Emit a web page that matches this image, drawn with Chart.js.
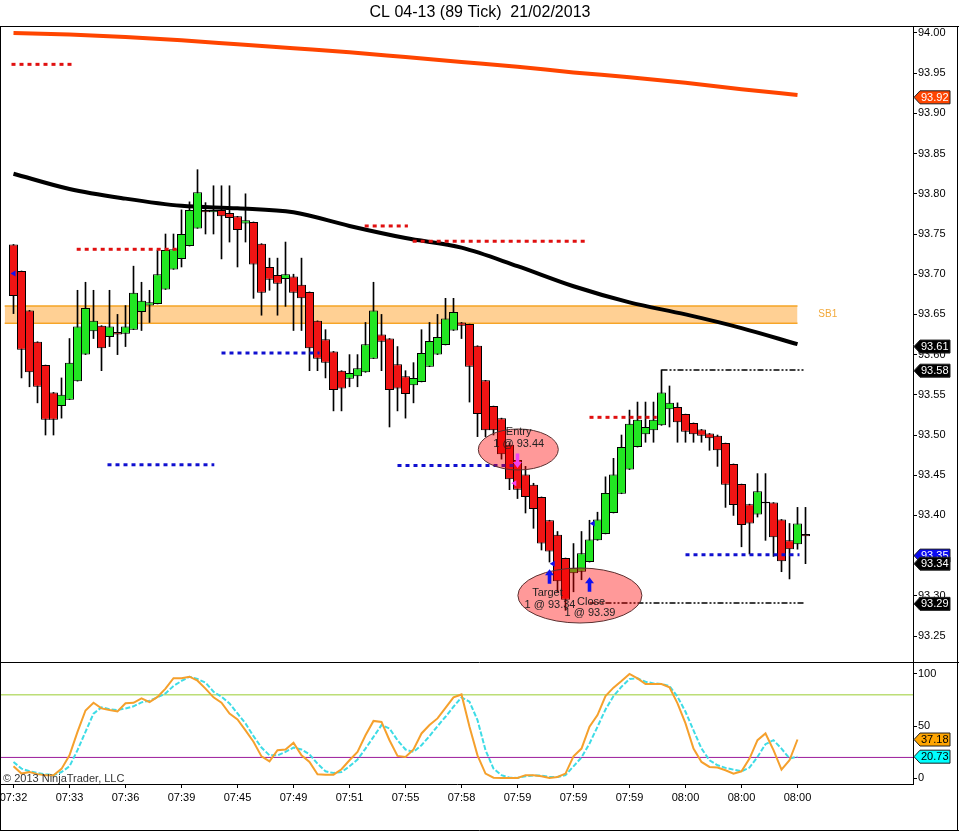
<!DOCTYPE html>
<html>
<head>
<meta charset="utf-8">
<script src="https://cdn.jsdelivr.net/npm/chart.js@4.4.1/dist/chart.umd.min.js"></script>
<style>
  body { margin: 0; background: #fff; }
  #wrap { position: relative; width: 959px; height: 831px; }
  canvas { position: absolute; left: 0; }
</style>
</head>
<body>
<div id="wrap">
  <canvas id="price" width="959" height="662" style="top:0"></canvas>
  <canvas id="stoch" width="959" height="169" style="top:662px"></canvas>
</div>
<script>
// CL 04-13 (89 Tick) 21/02/2013 - candles, 2 SMA, levels, stochastics

const FONT = "'Liberation Sans', Arial, sans-serif";
Chart.defaults.font.family = FONT;

// bars 0..99
const opens = [93.737, 93.704, 93.655, 93.616, 93.587, 93.553, 93.536, 93.544, 93.567, 93.600,
  93.629, 93.636, 93.622, 93.628, 93.626, 93.631, 93.653, 93.661, 93.663, 93.681,
  93.706, 93.719, 93.735, 93.757, 93.780, 93.777, 93.780, 93.776, 93.772, 93.763,
  93.765, 93.738, 93.709, 93.699, 93.694, 93.697, 93.687, 93.678, 93.642, 93.619,
  93.604, 93.580, 93.570, 93.573, 93.578, 93.595, 93.625, 93.620, 93.588, 93.573,
  93.562, 93.566, 93.585, 93.600, 93.612, 93.630, 93.640, 93.638, 93.611, 93.568,
  93.536, 93.521, 93.488, 93.469, 93.451, 93.438, 93.423, 93.394, 93.376, 93.347,
  93.328, 93.330, 93.342, 93.369, 93.377, 93.403, 93.427, 93.457, 93.485, 93.501,
  93.506, 93.512, 93.532, 93.535, 93.526, 93.515, 93.507, 93.502, 93.499, 93.490,
  93.464, 93.439, 93.414, 93.401, 93.417, 93.416, 93.395, 93.369, 93.364, 93.377];
const highs = [93.737, 93.704, 93.655, 93.616, 93.587, 93.553, 93.571, 93.620, 93.680, 93.690,
  93.680, 93.636, 93.680, 93.650, 93.661, 93.710, 93.690, 93.680, 93.730, 93.750,
  93.750, 93.780, 93.790, 93.830, 93.789, 93.810, 93.810, 93.810, 93.772, 93.800,
  93.765, 93.738, 93.720, 93.720, 93.740, 93.700, 93.720, 93.678, 93.642, 93.631,
  93.604, 93.580, 93.600, 93.600, 93.640, 93.690, 93.650, 93.620, 93.610, 93.580,
  93.590, 93.631, 93.640, 93.650, 93.670, 93.670, 93.640, 93.638, 93.611, 93.568,
  93.536, 93.521, 93.490, 93.470, 93.461, 93.440, 93.423, 93.394, 93.380, 93.347,
  93.365, 93.380, 93.394, 93.404, 93.448, 93.471, 93.500, 93.531, 93.541, 93.541,
  93.541, 93.581, 93.561, 93.540, 93.526, 93.515, 93.507, 93.502, 93.500, 93.490,
  93.464, 93.439, 93.414, 93.452, 93.452, 93.416, 93.395, 93.390, 93.410, 93.410];
const lows = [93.651, 93.571, 93.560, 93.540, 93.500, 93.500, 93.521, 93.544, 93.567, 93.600,
  93.620, 93.580, 93.610, 93.600, 93.610, 93.631, 93.630, 93.640, 93.663, 93.681,
  93.706, 93.709, 93.735, 93.757, 93.750, 93.750, 93.719, 93.740, 93.709, 93.740,
  93.670, 93.649, 93.680, 93.649, 93.660, 93.630, 93.630, 93.580, 93.580, 93.571,
  93.530, 93.530, 93.560, 93.560, 93.578, 93.595, 93.580, 93.510, 93.530, 93.521,
  93.540, 93.566, 93.585, 93.600, 93.612, 93.630, 93.620, 93.541, 93.498, 93.498,
  93.500, 93.470, 93.432, 93.421, 93.403, 93.384, 93.357, 93.342, 93.305, 93.282,
  93.305, 93.320, 93.342, 93.369, 93.377, 93.403, 93.427, 93.457, 93.485, 93.491,
  93.491, 93.512, 93.510, 93.491, 93.491, 93.491, 93.491, 93.481, 93.461, 93.410,
  93.400, 93.361, 93.352, 93.398, 93.369, 93.349, 93.330, 93.321, 93.358, 93.340];
const closes = [93.673, 93.606, 93.578, 93.560, 93.519, 93.519, 93.550, 93.590, 93.635, 93.658,
  93.642, 93.608, 93.635, 93.625, 93.635, 93.677, 93.667, 93.665, 93.700, 93.730,
  93.731, 93.750, 93.780, 93.802, 93.777, 93.780, 93.772, 93.770, 93.755, 93.767,
  93.712, 93.677, 93.693, 93.688, 93.700, 93.677, 93.670, 93.608, 93.595, 93.590,
  93.556, 93.558, 93.577, 93.583, 93.613, 93.655, 93.616, 93.556, 93.558, 93.551,
  93.571, 93.602, 93.617, 93.622, 93.645, 93.653, 93.636, 93.585, 93.526, 93.506,
  93.506, 93.476, 93.445, 93.432, 93.423, 93.408, 93.365, 93.355, 93.318, 93.295,
  93.335, 93.353, 93.370, 93.395, 93.428, 93.451, 93.485, 93.514, 93.519, 93.510,
  93.519, 93.553, 93.540, 93.516, 93.504, 93.501, 93.499, 93.496, 93.481, 93.438,
  93.413, 93.388, 93.390, 93.430, 93.415, 93.373, 93.343, 93.358, 93.390, 93.374];

// x labels, every 7th bar
const tickBars = [0, 7, 14, 21, 28, 35, 42, 49, 56, 63, 70, 77, 84, 91, 98];
const tickTimes = ["07:32", "07:33", "07:36", "07:39", "07:45", "07:49", "07:51", "07:55",
  "07:58", "07:59", "07:59", "07:59", "08:00", "08:00", "08:00"];
const priceTicks = [93.25, 93.30, 93.35, 93.40, 93.45, 93.50, 93.55, 93.60, 93.65,
  93.70, 93.75, 93.80, 93.85, 93.90, 93.95, 94.00];

// moving averages read at the tick bars
const smaOrange = [94.000, 93.998, 93.995, 93.991, 93.986, 93.981, 93.976, 93.970,
  93.964, 93.958, 93.951, 93.945, 93.938, 93.930, 93.923];
const smaBlack = [93.825, 93.806, 93.794, 93.785, 93.782, 93.777, 93.760, 93.745,
  93.733, 93.710, 93.685, 93.665, 93.650, 93.633, 93.613];

// stochastics, bars 0..98
const stochK = [11.5, 4.5, 6, 4, 3, 3, 9, 22, 44.5, 65,
  72.4, 67, 65.4, 64, 72, 72.4, 76.6, 73, 78, 86,
  96, 96, 97.4, 93.6, 86, 77.6, 72.4, 62, 56.4, 46,
  35, 21, 16.3, 27, 27.6, 34, 22, 15.7, 3.8, 3.5,
  3.5, 8.7, 17.3, 25.3, 41.3, 55, 54, 36.5, 21.5, 20.5,
  27.6, 43, 51, 57.4, 67.6, 77.6, 80.4, 49.4, 22, 4.5,
  0.6, 0.3, 0.3, 0.3, 3, 3, 2, 0.3, 1.3, 4.5,
  21, 28.5, 49.4, 60.6, 78.8, 86.9, 93.3, 100, 95.8, 90.4,
  90.4, 90.4, 87.2, 71.8, 52.6, 28.5, 15.7, 10.9, 10.3, 7.7,
  4.5, 6.7, 18.9, 36.5, 43, 27, 8.3, 17.3, 37.2];
const stochD = [15.7, 9.3, 6.7, 5, 3.8, 3, 6, 11.5, 27, 44.6,
  62, 68, 66.3, 65.4, 67, 69, 72.8, 74.4, 77.6, 81.4,
  88.5, 93.3, 97.4, 95.2, 91.7, 83, 78.2, 71.8, 62.2, 52.6,
  40.4, 29.5, 22, 22, 25.3, 29.5, 27.6, 23, 14, 6.7,
  5, 6, 11.5, 18, 28.5, 39.7, 51, 47.8, 36.5, 27.6,
  25.3, 31.7, 40.4, 50, 59, 68.6, 77.6, 73.4, 55.8, 27,
  9.3, 3, 0.6, 0.3, 2, 2.6, 2.6, 1.3, 1.3, 3,
  11.5, 20, 33.3, 49.4, 66, 78.8, 87.8, 95.2, 95.8, 92.6,
  91, 90.4, 88.5, 78.2, 63.8, 46, 28.5, 17.3, 12.5, 10,
  8.3, 6.7, 10.3, 20.5, 32.7, 36.5, 28.5, 19, 20.7];
const stochLevels = [80, 20];

// levels: [fromBar, toBar, price]
const redLevels = [[-0.25, 7.6, 93.961], [7.9, 20.4, 93.731], [43.9, 49.3, 93.760],
  [49.9, 71.4, 93.741], [72, 80.4, 93.522]];
const blueLevels = [[11.75, 25.1, 93.463], [26, 38.25, 93.602], [48, 62.5, 93.462],
  [84, 98.25, 93.351]];
const dashLevels = [[81, 99, 93.581], [72, 99, 93.291]];
const zoneSB1 = [-1.1, 98, 93.639, 93.6605];

// right axis markers
const priceTags = [93.92, 93.61, 93.58, 93.35, 93.34, 93.29];
const stochTags = [37.18, 20.73];

// trades
const ovals = [
  { bar: 63.1, price: 93.482, rBars: 5, rPrice: 0.0255 },
  { bar: 70.8, price: 93.3004, rBars: 7.75, rPrice: 0.0342 }
];
const ovalTexts = [
  ["Entry", 63.15, 93.5034], ["1 @ 93.44", 63.15, 93.4888],
  ["Target", 66.75, 93.3031], ["1 @ 93.34", 67.06, 93.2886],
  ["Close", 72.2, 93.2927], ["1 @ 93.39", 72.06, 93.2782]
];
const arrows = [[67, 93.333, 93.315, "#1010F0"], [72, 93.323, 93.305, "#1010F0"],
  [63, 93.459, 93.477, "#F040F0"]];
const marks = [[0, 93.701, "#1010F0"], [67.4, 93.34, "#1010F0"], [72.4, 93.39, "#1010F0"],
  [62.6, 93.44, "#F040F0"]];

const xMin = -1.5625, xMax = 112.4375;

function levelSets(levels, color, width, dash) {
  return levels.map(([a, b, p]) => ({
    type: "line",
    data: [{ x: a, y: p }, { x: b, y: p }],
    borderColor: color, borderWidth: width, borderDash: dash, borderCapStyle: "butt",
    pointRadius: 0, order: 2
  }));
}

function tag(ctx, xl, y, text, bg, fg) {
  ctx.beginPath();
  ctx.moveTo(xl + 1, y);
  ctx.lineTo(xl + 7, y - 6.5);
  ctx.lineTo(xl + 37, y - 6.5);
  ctx.lineTo(xl + 37, y + 6.5);
  ctx.lineTo(xl + 7, y + 6.5);
  ctx.closePath();
  ctx.fillStyle = bg;
  ctx.fill();
  ctx.strokeStyle = "#222";
  ctx.lineWidth = 1;
  ctx.stroke();
  ctx.fillStyle = fg;
  ctx.font = "11px " + FONT;
  ctx.textAlign = "left";
  ctx.textBaseline = "middle";
  ctx.fillText(text, xl + 8, y + 0.5);
}

const priceNotes = {
  id: "priceNotes",
  afterDraw(chart) {
    const { ctx, scales: { x, y } } = chart;
    ctx.save();
    // frame
    ctx.strokeStyle = "#000";
    ctx.lineWidth = 1;
    ctx.beginPath();
    ctx.moveTo(0, 26.5); ctx.lineTo(959, 26.5);
    ctx.moveTo(0.5, 26); ctx.lineTo(0.5, 662);
    ctx.moveTo(957.5, 26); ctx.lineTo(957.5, 662);
    ctx.stroke();

    // SB1 label
    ctx.fillStyle = "#F2A93B";
    ctx.font = "10px " + FONT;
    ctx.textBaseline = "middle";
    ctx.fillText("SB1", x.getPixelForValue(100.6), y.getPixelForValue(93.65));

    // trade ovals
    ovals.forEach(o => {
      const cx = x.getPixelForValue(o.bar), cy = y.getPixelForValue(o.price);
      const rx = x.getPixelForValue(o.bar + o.rBars) - cx;
      const ry = cy - y.getPixelForValue(o.price + o.rPrice);
      ctx.beginPath();
      ctx.ellipse(cx, cy, rx, ry, 0, 0, Math.PI * 2);
      ctx.fillStyle = "rgba(255,0,0,0.4)";
      ctx.fill();
      ctx.strokeStyle = "#5a3030";
      ctx.stroke();
    });
    arrows.forEach(([bar, tip, tail, color]) => {
      const ax = x.getPixelForValue(bar), yt = y.getPixelForValue(tip), yb = y.getPixelForValue(tail);
      const d = Math.sign(yb - yt);
      ctx.fillStyle = color;
      ctx.beginPath();
      ctx.moveTo(ax, yt);
      ctx.lineTo(ax + 4.5, yt + 6 * d);
      ctx.lineTo(ax + 1.8, yt + 6 * d);
      ctx.lineTo(ax + 1.8, yb);
      ctx.lineTo(ax - 1.8, yb);
      ctx.lineTo(ax - 1.8, yt + 6 * d);
      ctx.lineTo(ax - 4.5, yt + 6 * d);
      ctx.closePath();
      ctx.fill();
    });
    marks.forEach(([bar, p, color]) => {
      const mx = x.getPixelForValue(bar), my = y.getPixelForValue(p);
      ctx.fillStyle = color;
      ctx.beginPath();
      ctx.moveTo(mx - 3, my);
      ctx.lineTo(mx + 2, my - 3);
      ctx.lineTo(mx + 2, my + 3);
      ctx.closePath();
      ctx.fill();
    });
    ctx.fillStyle = "#222";
    ctx.font = "11px " + FONT;
    ctx.textAlign = "center";
    ovalTexts.forEach(([t, bar, p]) => ctx.fillText(t, x.getPixelForValue(bar), y.getPixelForValue(p)));

    // axis markers
    const tagColors = [["#FF4500", "#fff"], ["#000", "#fff"], ["#000", "#fff"],
      ["#0A0AF0", "#fff"], ["#000", "#fff"], ["#000", "#fff"]];
    priceTags.forEach((v, i) => tag(ctx, y.left, y.getPixelForValue(v), v.toFixed(2), tagColors[i][0], tagColors[i][1]));
    ctx.restore();
  }
};

const stochNotes = {
  id: "stochNotes",
  afterDraw(chart) {
    const { ctx, scales: { y } } = chart;
    ctx.save();
    ctx.strokeStyle = "#000";
    ctx.lineWidth = 1;
    ctx.beginPath();
    ctx.moveTo(0, 0.5); ctx.lineTo(959, 0.5);
    ctx.moveTo(0.5, 0); ctx.lineTo(0.5, 169);
    ctx.moveTo(957.5, 0); ctx.lineTo(957.5, 169);
    ctx.moveTo(0, 168.5); ctx.lineTo(959, 168.5);
    ctx.stroke();
    ctx.fillStyle = "#333";
    ctx.font = "11px " + FONT;
    ctx.textBaseline = "middle";
    ctx.fillText("\u00A9 2013 NinjaTrader, LLC", 3, 117);
    const tagColors = ["#FFA500", "#00FFFF"];
    stochTags.forEach((v, i) => tag(ctx, y.left, y.getPixelForValue(v), v.toFixed(2), tagColors[i], "#000"));
    ctx.restore();
  }
};

const candleColors = closes.map((c, i) => c >= opens[i] ? "#22E622" : "#F01414");
const axisFont = { family: FONT, size: 11 };

// price panel
new Chart(document.getElementById("price"), {
  type: "bar",
  data: {
    datasets: [
      {
        type: "line", data: [{ x: zoneSB1[0], y: zoneSB1[3] }, { x: zoneSB1[1], y: zoneSB1[3] }],
        borderColor: "#F5A524", borderWidth: 1.5, pointRadius: 0,
        fill: "+1", backgroundColor: "rgba(255,170,60,0.55)", order: 9
      },
      {
        type: "line", data: [{ x: zoneSB1[0], y: zoneSB1[2] }, { x: zoneSB1[1], y: zoneSB1[2] }],
        borderColor: "#F5A524", borderWidth: 1.5, pointRadius: 0, fill: false, order: 9
      },
      {
        type: "line", data: smaOrange.map((v, i) => ({ x: tickBars[i], y: v })),
        borderColor: "#FF4500", borderWidth: 4, pointRadius: 0, cubicInterpolationMode: "monotone", order: 8
      },
      {
        type: "line", data: smaBlack.map((v, i) => ({ x: tickBars[i], y: v })),
        borderColor: "#000", borderWidth: 4, pointRadius: 0, cubicInterpolationMode: "monotone", order: 8
      },
      {
        // wicks
        data: lows.map((l, i) => ({ x: i, y: [l, highs[i]] })),
        backgroundColor: "#000", grouped: false, maxBarThickness: 1,
        barPercentage: 1, categoryPercentage: 1, order: 6
      },
      {
        // bodies
        data: opens.map((o, i) => ({ x: i, y: [o, closes[i]] })),
        backgroundColor: candleColors, borderColor: "#000", borderWidth: 1, borderSkipped: false,
        grouped: false, barPercentage: 1.125, categoryPercentage: 1, order: 5
      },
      ...levelSets(redLevels, "#E01010", 3, [4, 4]),
      ...levelSets(blueLevels, "#1010D0", 3, [4, 4]),
      ...levelSets(dashLevels, "#000", 1.5, [6, 2, 2, 2, 2, 2])
    ]
  },
  options: {
    responsive: false, animation: false, devicePixelRatio: 1,
    layout: { padding: { left: 1, right: 0, top: 0, bottom: 0 } },
    plugins: {
      legend: { display: false }, tooltip: { enabled: false },
      title: {
        display: true, text: "CL 04-13 (89 Tick)  21/02/2013", color: "#000",
        font: { family: FONT, size: 16, weight: "normal" }, padding: { top: 3, bottom: 3.8 }
      }
    },
    scales: {
      x: { type: "linear", min: xMin, max: xMax, offset: false, display: false },
      y: {
        position: "right", min: 93.2177, max: 94.0087, beginAtZero: false,
        afterFit: s => { s.width = 46; s.paddingTop = 0; s.paddingBottom = 0; },
        afterBuildTicks: s => { s.ticks = priceTicks.map(v => ({ value: v })); },
        grid: { drawOnChartArea: false, tickLength: 4, color: "#000" },
        border: { color: "#000" },
        ticks: { padding: 1, font: axisFont, color: "#000", autoSkip: false, callback: v => v.toFixed(2) }
      }
    }
  },
  plugins: [priceNotes]
});

// stochastics panel
new Chart(document.getElementById("stoch"), {
  type: "line",
  data: {
    datasets: [
      { data: [{ x: xMin, y: stochLevels[0] }, { x: xMax, y: stochLevels[0] }], borderColor: "#9ACD32", borderWidth: 1, pointRadius: 0, order: 3 },
      { data: [{ x: xMin, y: stochLevels[1] }, { x: xMax, y: stochLevels[1] }], borderColor: "#9B1B9B", borderWidth: 1, pointRadius: 0, order: 3 },
      { data: stochD.map((v, i) => ({ x: i, y: v })), borderColor: "#3EDCE6", borderWidth: 2, borderDash: [5, 2], pointRadius: 0, order: 1 },
      { data: stochK.map((v, i) => ({ x: i, y: v })), borderColor: "#F5A02C", borderWidth: 2, pointRadius: 0, order: 0 }
    ]
  },
  options: {
    responsive: false, animation: false, devicePixelRatio: 1,
    layout: { padding: { left: 1, right: 0, top: 0, bottom: 0 } },
    plugins: { legend: { display: false }, tooltip: { enabled: false } },
    scales: {
      x: {
        type: "linear", min: xMin, max: xMax,
        afterFit: s => { s.height = 47; s.paddingLeft = 0; s.paddingRight = 0; },
        afterBuildTicks: s => { s.ticks = tickBars.map(v => ({ value: v })); },
        grid: { drawOnChartArea: false, tickLength: 4, color: "#000" },
        border: { color: "#000" },
        ticks: { padding: 3, font: axisFont, color: "#000", maxRotation: 0, autoSkip: false, callback: (v, i) => tickTimes[i] }
      },
      y: {
        position: "right", min: -5.47, max: 111.5,
        afterFit: s => { s.width = 46; s.paddingTop = 0; s.paddingBottom = 0; },
        afterBuildTicks: s => { s.ticks = [0, 50, 100].map(v => ({ value: v })); },
        grid: { drawOnChartArea: false, tickLength: 4, color: "#000" },
        border: { color: "#000" },
        ticks: { padding: 1, font: axisFont, color: "#000", autoSkip: false, callback: v => String(v) }
      }
    }
  },
  plugins: [stochNotes]
});
</script>
</body>
</html>
